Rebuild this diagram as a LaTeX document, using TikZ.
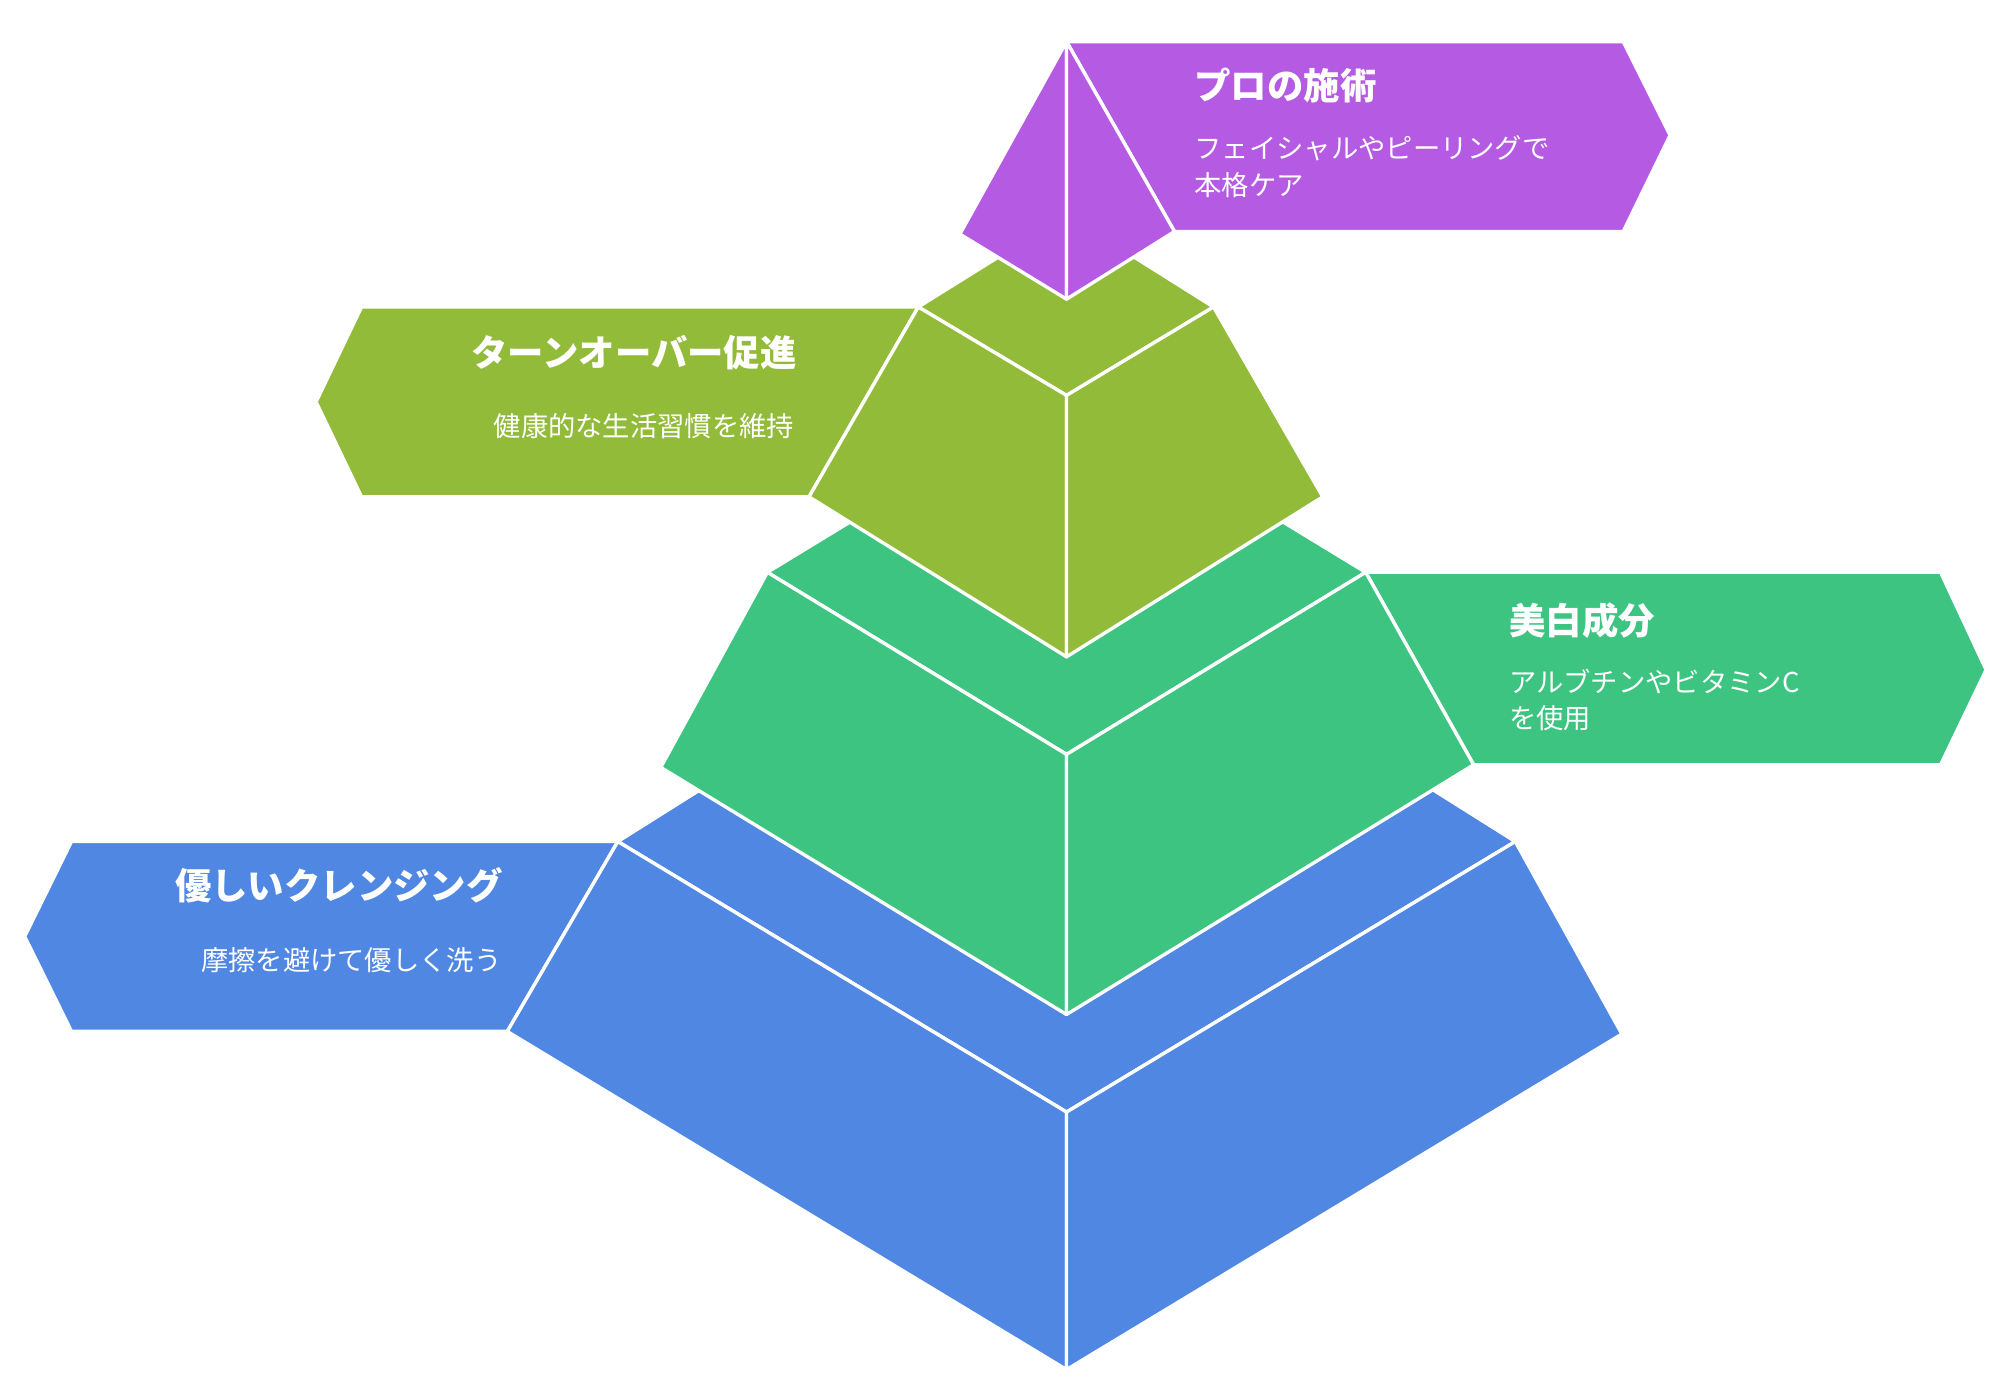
\documentclass[tikz,border=0pt]{standalone}
\usepackage{fontspec}
\newfontfamily\jp{Noto Sans CJK JP}
\definecolor{cpur}{HTML}{B55BE3}
\definecolor{coli}{HTML}{93BB3A}
\definecolor{cgrn}{HTML}{3EC481}
\definecolor{cblu}{HTML}{4F87E3}
\tikzset{face/.style={draw=white,line width=1.3pt,line join=round},
 ttl/.style={font=\jp\bfseries\fontsize{14}{16}\selectfont,text=white,inner sep=0pt},
 bdy/.style={font=\jp\fontsize{10.5}{14}\selectfont,text=white,inner sep=0pt,align=left}}
\begin{document}
\begin{tikzpicture}[x=0.5pt,y=-0.5pt]
\useasboundingbox[fill=white] (0,0) rectangle (1550,1065);
% blue
\fill[cblu,face] (55,647)--(475,647)--(390,793)--(55,793)--(19,720)--cycle;
\fill[cblu,face] (475,647)--(820,430)--(1165,647)--(820,855)--cycle;
\fill[cblu,face] (475,647)--(820,855)--(820,1053)--(390,793)--cycle;
\fill[cblu,face] (1165,647)--(1247,795)--(820,1053)--(820,855)--cycle;
% green
\fill[cgrn,face] (1050,440)--(1492,440)--(1527,515)--(1492,588)--(1133,588)--cycle;
\fill[cgrn,face] (590,440)--(820,300)--(1050,440)--(820,580)--cycle;
\fill[cgrn,face] (590,440)--(820,580)--(820,780)--(508,590)--cycle;
\fill[cgrn,face] (1050,440)--(1133,588)--(820,780)--(820,580)--cycle;
% olive
\fill[coli,face] (278,236)--(706,236)--(622,382)--(278,382)--(243,309)--cycle;
\fill[coli,face] (706,236)--(820,165)--(933,236)--(820,304)--cycle;
\fill[coli,face] (706,236)--(820,304)--(820,505)--(622,382)--cycle;
\fill[coli,face] (933,236)--(1017,382)--(820,505)--(820,304)--cycle;
% purple
\fill[cpur,face] (820,32)--(1248,32)--(1284,104)--(1248,178)--(903,178)--cycle;
\fill[cpur,face] (820,32)--(738,180)--(820,230)--cycle;
\fill[cpur,face] (820,32)--(903,178)--(820,230)--cycle;
% texts
\node[ttl,anchor=west] (t1) at (918,66) {プロの施術};
\node[bdy,anchor=north west] (b1) at (918,104) {フェイシャルやピーリングで\\本格ケア};
\node[ttl,anchor=east] (t2) at (613,271) {ターンオーバー促進};
\node[bdy,anchor=east] (b2) at (611,328) {健康的な生活習慣を維持};
\node[ttl,anchor=west] (t3) at (1160,477) {美白成分};
\node[bdy,anchor=north west] (b3) at (1160,514) {アルブチンやビタミンC\\を使用};
\node[ttl,anchor=east] (t4) at (387,681) {優しいクレンジング};
\node[bdy,anchor=east] (b4) at (386,738) {摩擦を避けて優しく洗う};
\end{tikzpicture}
\end{document}
